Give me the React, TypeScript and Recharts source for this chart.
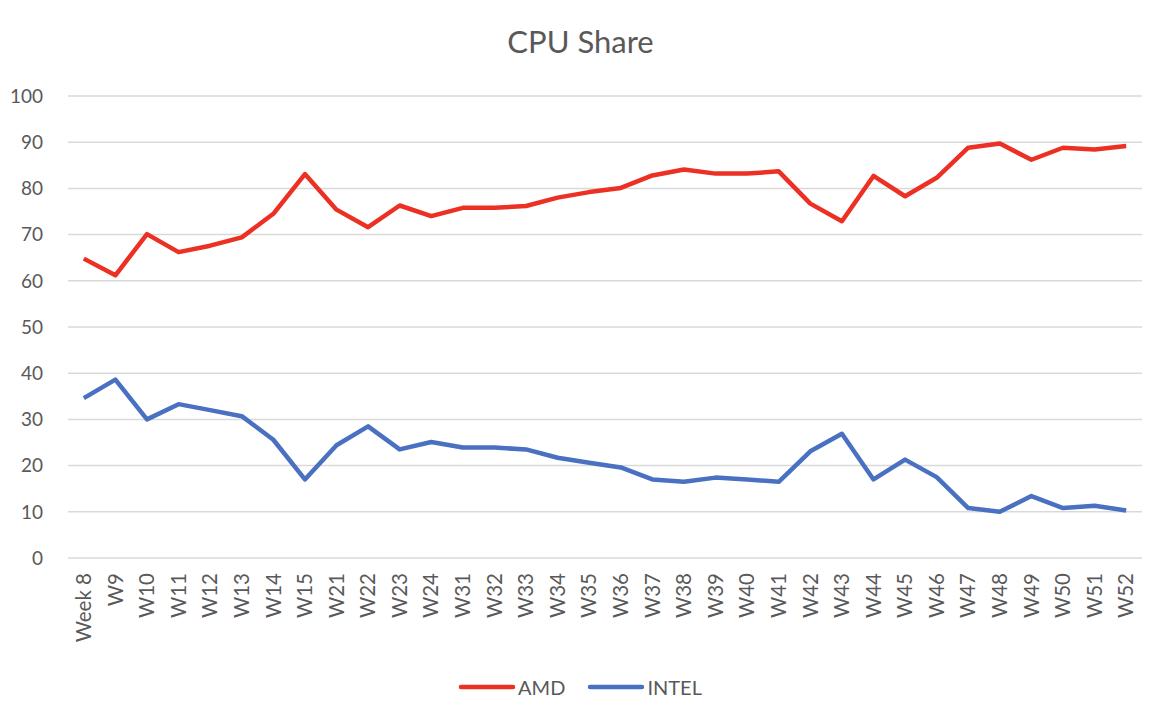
import { CartesianGrid, Legend, Line, LineChart, XAxis, YAxis } from "recharts"

const weeks = [
  "Week 8", "W9", "W10", "W11", "W12", "W13", "W14", "W15", "W21", "W22", "W23", "W24",
  "W31", "W32", "W33", "W34", "W35", "W36", "W37", "W38", "W39", "W40", "W41", "W42",
  "W43", "W44", "W45", "W46", "W47", "W48", "W49", "W50", "W51", "W52",
]

const amd = [
  64.8, 61.2, 70.1, 66.2, 67.6, 69.4, 74.5, 83.1, 75.4, 71.6, 76.3, 74.0,
  75.8, 75.8, 76.2, 78.0, 79.2, 80.1, 82.8, 84.1, 83.2, 83.2, 83.7, 76.7,
  72.9, 82.7, 78.3, 82.3, 88.8, 89.7, 86.2, 88.8, 88.4, 89.2,
]

const intel = [
  34.6, 38.6, 30.0, 33.3, 32.0, 30.7, 25.6, 17.0, 24.4, 28.5, 23.5, 25.1,
  23.9, 23.9, 23.5, 21.7, 20.6, 19.6, 17.0, 16.5, 17.4, 17.0, 16.5, 23.1,
  26.9, 17.0, 21.3, 17.5, 10.8, 10.0, 13.4, 10.8, 11.3, 10.3,
]

const yTicks = [0, 10, 20, 30, 40, 50, 60, 70, 80, 90, 100]

const data = weeks.map((week, i) => ({ week, AMD: amd[i], INTEL: intel[i] }))

const FONT = "Lato, 'Open Sans', sans-serif"
const TEXT = "#595959"
const RED = "#ED3024"
const BLUE = "#4A70C1"

const WeekTick = (props: any) => {
  const { x, y, payload } = props
  return (
    <g transform={`translate(${x},${y})`}>
      <text transform="rotate(-90)" textAnchor="end" dy="0.35em" fill={TEXT} fontSize={20.5} fontFamily={FONT}>
        {payload.value}
      </text>
    </g>
  )
}

const renderLegend = (props: any) => {
  const items = props.payload || []
  return (
    <div style={{ display: "flex", justifyContent: "center", gap: 22, height: 18, alignItems: "center", paddingLeft: 10 }}>
      {items.map((item: any) => (
        <div key={item.value} style={{ display: "flex", alignItems: "center" }}>
          <svg width={58} height={8}>
            <line x1={3} y1={4} x2={55} y2={4} stroke={item.color} strokeWidth={4.5} strokeLinecap="round" />
          </svg>
          <span style={{ color: TEXT, fontSize: 20, fontFamily: FONT, marginLeft: 2 }}>{item.value}</span>
        </div>
      ))}
    </div>
  )
}

export default function App() {
  return (
    <div style={{ position: "relative", width: 1140, height: 688, background: "#fff" }}>
      <div
        style={{
          position: "absolute",
          top: 18,
          left: 0,
          width: 1145,
          textAlign: "center",
          fontFamily: FONT,
          fontSize: 31,
          lineHeight: "31px",
          color: TEXT,
        }}
      >
        CPU Share
      </div>
      <LineChart width={1140} height={688} data={data} margin={{ top: 88, right: 6, left: 0, bottom: 0 }}>
        <CartesianGrid vertical={false} stroke="#d9d9d9" strokeWidth={1.5} />
        <XAxis
          dataKey="week"
          interval={0}
          axisLine={false}
          tickLine={false}
          height={120}
          padding={{ left: 15.8, right: 15.8 }}
          tick={<WeekTick />}
          tickSize={6}
          tickMargin={9}
        />
        <YAxis
          domain={[0, 100]}
          ticks={yTicks}
          axisLine={false}
          tickLine={false}
          width={60}
          tickMargin={19}
          tick={{ fill: TEXT, fontSize: 19, fontFamily: FONT }}
        />
        <Legend verticalAlign="bottom" height={18} content={renderLegend} />
        <Line dataKey="AMD" stroke={RED} strokeWidth={4.5} dot={false} isAnimationActive={false} strokeLinejoin="round" />
        <Line dataKey="INTEL" stroke={BLUE} strokeWidth={4.5} dot={false} isAnimationActive={false} strokeLinejoin="round" />
      </LineChart>
    </div>
  )
}
